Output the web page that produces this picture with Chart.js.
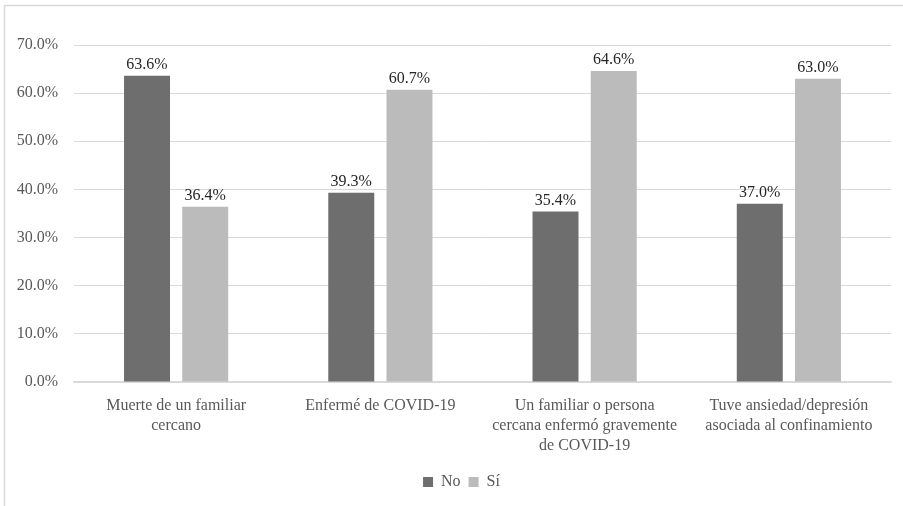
<!DOCTYPE html>
<html>
<head>
<meta charset="utf-8">
<script src="https://cdn.jsdelivr.net/npm/chart.js@4.4.1/dist/chart.umd.min.js"></script>
<style>
  html, body { margin: 0; padding: 0; background: #fff; }
  #wrap { width: 903px; height: 506px; position: relative; }
</style>
</head>
<body>
<div id="wrap"><canvas id="barplot"></canvas></div>
<script>
// data
var categories = [
  ['Muerte de un familiar', 'cercano'],
  'Enfermé de COVID-19',
  ['Un familiar o persona', 'cercana enfermó gravemente', 'de COVID-19'],
  ['Tuve ansiedad/depresión', 'asociada al confinamiento']
];
var seriesNames = ['No', 'Sí'];
var noValues = [63.6, 39.3, 35.4, 37.0];
var siValues = [36.4, 60.7, 64.6, 63.0];
var yTicks = [0, 10, 20, 30, 40, 50, 60, 70];

var serif = "'Liberation Serif', 'DejaVu Serif', serif";

// thin frame on the top and left, like the cropped original
var framePlugin = {
  id: 'frame',
  beforeDraw: function(chart) {
    var ctx = chart.ctx;
    ctx.save();
    ctx.fillStyle = '#fff';
    ctx.fillRect(0, 0, chart.width, chart.height);
    ctx.strokeStyle = '#d9d9d9';
    ctx.lineWidth = 1.5;
    ctx.beginPath();
    ctx.moveTo(4.5, chart.height);
    ctx.lineTo(4.5, 5.5);
    ctx.lineTo(chart.width, 5.5);
    ctx.stroke();
    ctx.restore();
  }
};

// legend sits a bit right of centre in the original
var legendShift = {
  id: 'legendShift',
  afterLayout: function(chart) {
    chart.legend.left += 16;
    chart.legend.right += 16;
  }
};

// value labels above each bar
var valueLabels = {
  id: 'valueLabels',
  afterDatasetsDraw: function(chart) {
    var ctx = chart.ctx;
    ctx.save();
    ctx.font = '16px ' + serif;
    ctx.fillStyle = '#262626';
    ctx.textAlign = 'center';
    ctx.textBaseline = 'bottom';
    chart.data.datasets.forEach(function(ds, i) {
      chart.getDatasetMeta(i).data.forEach(function(bar, j) {
        ctx.fillText(ds.data[j].toFixed(1) + '%', bar.x, bar.y - 3);
      });
    });
    ctx.restore();
  }
};

new Chart('barplot', {
  type: 'bar',
  data: {
    labels: categories,
    datasets: [{
      label: seriesNames[0],
      data: noValues,
      backgroundColor: '#6e6e6e'
    }, {
      label: seriesNames[1],
      data: siValues,
      backgroundColor: '#bbbbbb'
    }]
  },
  options: {
    responsive: true,
    maintainAspectRatio: false,
    animation: false,
    layout: { padding: { left: 0, right: 12, top: 45, bottom: 6 } },
    datasets: { bar: { categoryPercentage: 0.57, barPercentage: 0.79 } },
    plugins: {
      legend: {
        display: true,
        position: 'bottom',
        labels: {
          boxWidth: 10,
          boxHeight: 10,
          padding: 8,
          color: '#595959',
          font: { family: serif, size: 16 }
        }
      },
      title: { display: false },
      tooltip: { enabled: false }
    },
    scales: {
      x: {
        grid: { display: false, drawTicks: false },
        border: { color: '#d9d9d9', width: 1.5 },
        ticks: {
          color: '#595959',
          padding: 14,
          maxRotation: 0,
          autoSkip: false,
          font: { family: serif, size: 16, lineHeight: 1.25 }
        },
        afterFit: function(s) { s.height = 84; }
      },
      y: {
        min: 0,
        max: 70,
        afterBuildTicks: function(s) {
          s.ticks = yTicks.map(function(v) { return { value: v }; });
        },
        grid: { color: '#d9d9d9', drawTicks: false },
        border: { display: false },
        ticks: {
          color: '#595959',
          padding: 16,
          font: { family: serif, size: 16 },
          callback: function(v) { return v.toFixed(1) + '%'; }
        },
        afterFit: function(s) { s.width = 74; }
      }
    }
  },
  plugins: [framePlugin, legendShift, valueLabels]
});
</script>
</body>
</html>
